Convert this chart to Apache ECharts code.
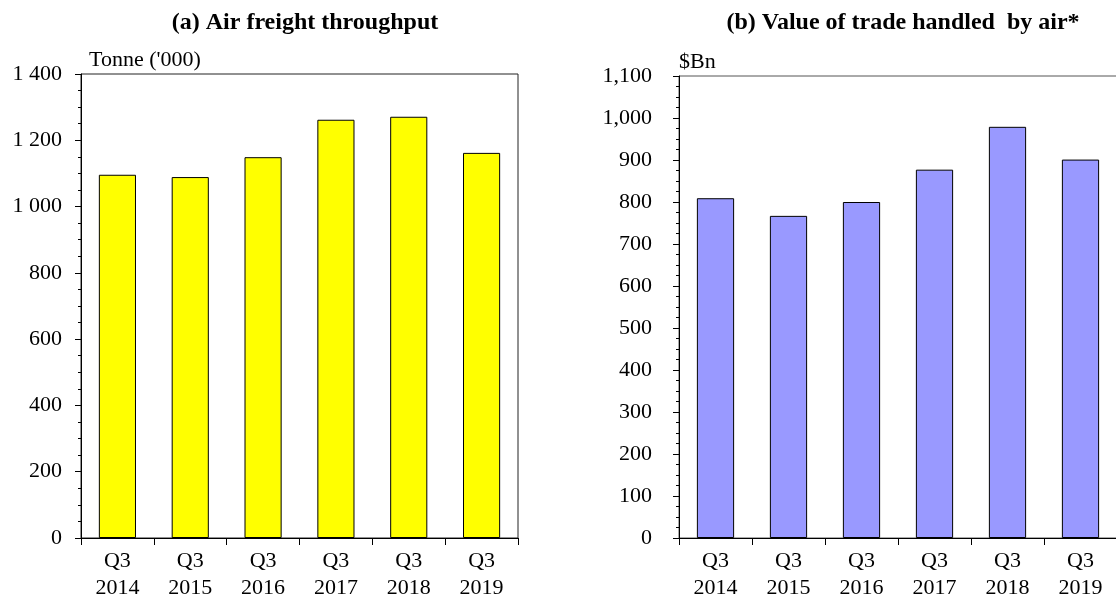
<!DOCTYPE html>
<html>
<head>
<meta charset="utf-8">
<script src="https://cdn.jsdelivr.net/npm/echarts@6/dist/echarts.min.js"></script>
<style>
  html, body { margin: 0; padding: 0; background: #fff; }
  #chart-container { width: 1116px; height: 599px; }
</style>
</head>
<body>
<div id="chart-container"></div>
<script>
var dom = document.getElementById("chart-container");
var myChart = echarts.init(dom, null, { renderer: "canvas" });

var categories = ["Q3\n2014", "Q3\n2015", "Q3\n2016", "Q3\n2017", "Q3\n2018", "Q3\n2019"];
// tonnes ('000)
var freightValues = [1096, 1089, 1149, 1262, 1271, 1162];
// $Bn
var tradeValues = [809, 767, 800, 877, 979, 901];

var font = "Liberation Serif";

function spaced(v) {
  return String(v).replace(/\B(?=(\d{3})+(?!\d))/g, " ");
}
function commas(v) {
  return String(v).replace(/\B(?=(\d{3})+(?!\d))/g, ",");
}

function xAxisFor(idx) {
  return {
    type: "category",
    gridIndex: idx,
    data: categories,
    axisLine: { lineStyle: { color: "#000", width: 1 } },
    axisTick: { show: true, length: 7, lineStyle: { color: "#000" } },
    axisLabel: {
      color: "#000", fontFamily: font, fontSize: 22, lineHeight: 27, margin: 10
    },
  };
}

function yAxisFor(idx, max, interval, name, fmt, margin) {
  return {
    type: "value",
    gridIndex: idx,
    min: 0,
    max: max,
    interval: interval,
    name: name,
    nameLocation: "end",
    nameGap: 3,
    nameTextStyle: {
      color: "#000", fontFamily: font, fontSize: 22,
      align: "left", verticalAlign: "bottom",
      padding: [0, 0, 0, idx === 0 ? 8 : 0],
    },
    axisLine: { show: true, lineStyle: { color: "#000", width: 1 } },
    axisTick: { show: true, length: 6, lineStyle: { color: "#000" } },
    minorTick: { show: true, splitNumber: 4, length: 3, lineStyle: { color: "#000" } },
    splitLine: { show: false },
    axisLabel: {
      color: "#000", fontFamily: font, fontSize: 22, margin: margin,
      formatter: fmt,
    },
  };
}

var option = {
  animation: false,
  backgroundColor: "#fff",
  title: [
    {
      text: "(a) Air freight throughput",
      left: 300, top: 6, textAlign: "center",
      textStyle: { fontFamily: font, fontSize: 24, fontWeight: "bold", color: "#000" },
    },
    {
      text: "(b) Value of trade handled  by air*",
      left: 898, top: 6, textAlign: "center",
      textStyle: { fontFamily: font, fontSize: 24, fontWeight: "bold", color: "#000" },
    },
  ],
  grid: [
    { left: 81, top: 74, width: 437, height: 464, outerBoundsMode: "none", containLabel: false,
      show: true, borderColor: "#222", borderWidth: 1, backgroundColor: "transparent" },
    { left: 679, top: 76, width: 438, height: 462, outerBoundsMode: "none", containLabel: false,
      show: true, borderColor: "#555", borderWidth: 1, backgroundColor: "transparent" },
  ],
  xAxis: [xAxisFor(0), xAxisFor(1)],
  yAxis: [
    yAxisFor(0, 1400, 200, "Tonne ('000)", spaced, 19),
    yAxisFor(1, 1100, 100, "$Bn", commas, 27),
  ],
  series: [
    {
      type: "bar",
      xAxisIndex: 0, yAxisIndex: 0,
      data: freightValues,
      barCategoryGap: "49%",
      itemStyle: { color: "#ffff00", borderColor: "#000", borderWidth: 1 },
    },
    {
      type: "bar",
      xAxisIndex: 1, yAxisIndex: 1,
      data: tradeValues,
      barCategoryGap: "49%",
      itemStyle: { color: "#9999ff", borderColor: "#000", borderWidth: 1 },
    },
  ],
};

myChart.setOption(option);
window.addEventListener("resize", myChart.resize);
</script>
</body>
</html>
